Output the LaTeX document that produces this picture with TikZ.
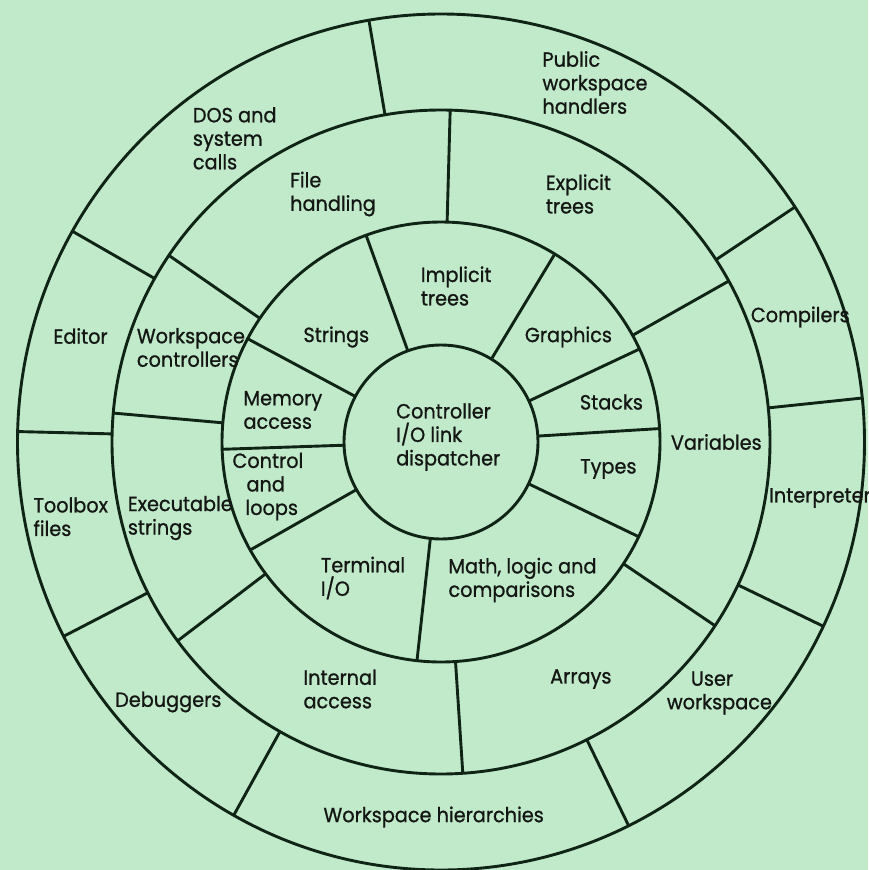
\documentclass[tikz,border=0pt]{standalone}
\usepackage{fontspec}
\setmainfont{Poppins}
\newfontfamily\lblfont{Poppins}[FakeStretch=0.94,FakeBold=0.9]
\definecolor{bg}{RGB}{192,234,202}
\definecolor{ln}{RGB}{16,36,22}
\definecolor{tx}{RGB}{20,22,20}
\begin{document}
\begin{tikzpicture}[x=1pt,y=-1pt,
  ring/.style={draw=ln, line width=2.9pt},
  divline/.style={draw=ln, line width=2.9pt},
  lbl/.style={anchor=west, align=left, inner sep=0pt, text=tx, font=\lblfont\fontsize{20.5}{23.5}\selectfont}]
\fill[bg] (0,0) rectangle (868,870);
\useasboundingbox (0,0) rectangle (868,870);
\coordinate (C) at (441,442);
\begin{scope}[shift={(C)}]
  % dividers, inner ring
  \foreach \a in {-110,-58.7,-25,-3.5,25.5,-263.7,-209.4,-181.9,-152}
    \draw[divline] (\a:97) -- (\a:219 and 220);
  % dividers, middle ring
  \foreach \a in {-88.4,-145.8,-175,-216.8,-273.8,33.6,-29}
    \draw[divline] (\a:219 and 220) -- (\a:329 and 332);
  % dividers, outer ring
  \foreach \a in {-99.8,-150.5,-178.6,-207,-240.7,-296.3,25.5,-5.9,-33.3}
    \draw[divline] (\a:329 and 332) -- (\a:423.5 and 428);
  \draw[ring] (0,0) ellipse [x radius=97, y radius=97];
  \draw[ring] (0,0) ellipse [x radius=219, y radius=220];
  \draw[ring] (0,0) ellipse [x radius=329, y radius=332];
  \draw[ring] (0,0) ellipse [x radius=423.5, y radius=428];
\end{scope}
% labels
\node[lbl] (dos) at (192.7,138.3) {DOS and\\system\\calls};
\node[lbl] (pub) at (542.3,82.5) {Public\\workspace\\handlers};
\node[lbl] (file) at (290,194) {File\\handling};
\node[lbl] (expl) at (545.7,194) {Explicit\\trees};
\node[lbl] (edit) at (53.3,336) {Editor};
\node[lbl] (wsc) at (136.7,347.5) {Workspace\\controllers};
\node[lbl] (str) at (303.3,337) {Strings};
\node[lbl] (impl) at (420.7,286) {Implicit\\trees};
\node[lbl] (gra) at (524.7,337) {Graphics};
\node[lbl] (comp) at (750.7,317) {Compilers};
\node[lbl] (mem) at (243.3,410) {Memory\\access};
\node[lbl] (stk) at (579.7,402) {Stacks};
\node[lbl] (ctl) at (396,437) {Controller\\I/O link\\dispatcher};
\node[lbl] (var) at (670.7,442) {Variables};
\node[lbl] (typ) at (580,469) {Types};
\node[lbl] (cal) at (232.3,486.5) {Control\\\hspace*{14pt}and\\\hspace*{13pt}loops};
\node[lbl] (tool) at (33.3,516.7) {Toolbox\\files};
\node[lbl] (exe) at (127.7,518) {Executable\\strings};
\node[lbl] (int) at (769,498) {Interpreter};
\node[lbl] (term) at (320.7,578) {Terminal\\I/O};
\node[lbl] (math) at (448.3,580) {Math, logic and\\comparisons};
\node[lbl] (inta) at (303.3,689) {Internal\\access};
\node[lbl] (arr) at (550,679) {Arrays};
\node[lbl] (usr) at (666.7,693) {\hspace*{24pt}User\\workspace};
\node[lbl] (dbg) at (115,702) {Debuggers};
\node[lbl] (wsh) at (323.3,817) {Workspace hierarchies};
\end{tikzpicture}
\end{document}
